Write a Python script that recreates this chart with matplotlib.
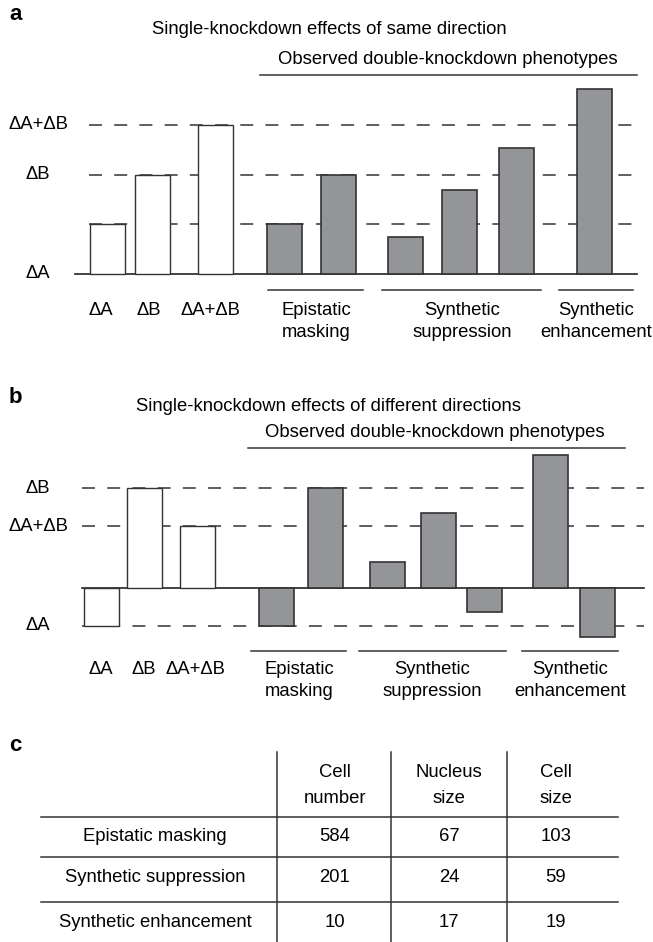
import matplotlib
matplotlib.use('Agg')
import matplotlib.pyplot as plt

plt.rcParams['font.family'] = ['Liberation Sans', 'DejaVu Sans']

# data
single_labels = ['ΔA', 'ΔB', 'ΔA+ΔB']
group_labels = ['Epistatic\nmasking', 'Synthetic\nsuppression', 'Synthetic\nenhancement']

# panel a: same direction (in units of ΔA)
a_single = [1.0, 2.0, 3.0]
a_double = [1.0, 2.0, 0.74, 1.7, 2.54, 3.72]
a_levels = [1.0, 2.0, 3.0]
a_level_labels = ['ΔA', 'ΔB', 'ΔA+ΔB']
a_level_pos = [0.0, 2.0, 3.0]

# panel b: different directions
b_single = [-1.0, 2.63, 1.63]
b_double = [-1.0, 2.63, 0.68, 1.97, -0.63, 3.5, -1.29]
b_levels = [-1.0, 1.63, 2.63]
b_level_labels = ['ΔA', 'ΔA+ΔB', 'ΔB']

# panel c table
row_names = ['Epistatic masking', 'Synthetic suppression', 'Synthetic enhancement']
col_names = ['Cell\nnumber', 'Nucleus\nsize', 'Cell\nsize']
cell_number = [584, 201, 10]
nucleus_size = [67, 24, 17]
cell_size = [103, 59, 19]

W, H = 653, 942
GREY = '#939598'
EDGE = '#333333'
FS = 13.3
DASH = (0, (8.5, 8))

fig = plt.figure(figsize=(W / 100, H / 100), dpi=100)


def panel_axes(top, bottom, base, unit):
    ax = fig.add_axes([0, 1 - bottom / H, 1, (bottom - top) / H])
    ax.set_xlim(0, W)
    ax.set_ylim((base - bottom) / unit, (base - top) / unit)
    ax.axis('off')
    return ax


def two_lines(ax, x, y1, y2, label):
    for y, line in zip([y1, y2], label.split('\n')):
        ax.text(x, y, line, fontsize=FS, ha='center', va='center')


def draw_panel(ax, py, letter, title, single, double, levels, lev_labels, lev_pos,
               xs_single, xs_double, dash_span, base_span, obs_span, obs_x,
               lab_x, grp_spans, grp_x, ys):
    ax.text(9, py(ys['letter']), letter, fontsize=16, fontweight='bold', va='center')
    ax.text(329, py(ys['title']), title, fontsize=FS, ha='center', va='center')
    ax.text(obs_x, py(ys['obs']), 'Observed double-knockdown phenotypes',
            fontsize=FS, ha='center', va='center')
    ax.plot(obs_span, [py(ys['obs_line'])] * 2, color=EDGE, lw=1.1)
    ax.hlines(levels, dash_span[0], dash_span[1], colors=EDGE, lw=1.1, linestyles=DASH)
    ax.bar(xs_single, single, width=35, facecolor='white', edgecolor=EDGE, lw=1, zorder=3)
    ax.bar(xs_double, double, width=35, facecolor=GREY, edgecolor=EDGE, lw=1.2, zorder=3)
    ax.plot(base_span, [0, 0], color='#222222', lw=1.2, zorder=2)
    for lab, y in zip(lev_labels, lev_pos):
        ax.text(38, y, lab, fontsize=FS, ha='center', va='center')
    for lab, x in zip(single_labels, lab_x):
        ax.text(x, py(ys['lab']), lab, fontsize=FS, ha='center', va='center')
    for (x0, x1), x, lab in zip(grp_spans, grp_x, group_labels):
        ax.plot([x0, x1], [py(ys['grp_line'])] * 2, color=EDGE, lw=1.1)
        two_lines(ax, x, py(ys['lab']), py(ys['lab2']), lab)


# panel a
base_a, unit_a = 274, 49.7
ax_a = panel_axes(0, 350, base_a, unit_a)
draw_panel(ax_a, lambda p: (base_a - p) / unit_a, 'a',
           'Single-knockdown effects of same direction',
           a_single, a_double, a_levels, a_level_labels, a_level_pos,
           [107, 152, 215], [284.5, 338.5, 405.5, 459.5, 516, 594.5],
           (89, 632), [75, 637], [260, 637], 448,
           [101, 149, 210], [(268, 363), (382, 541), (559, 633)], [316, 462, 596],
           dict(letter=14, title=29, obs=60, obs_line=75, lab=311, lab2=333, grp_line=290))

# panel b
base_b, unit_b = 588, 38
ax_b = panel_axes(350, 705, base_b, unit_b)
draw_panel(ax_b, lambda p: (base_b - p) / unit_b, 'b',
           'Single-knockdown effects of different directions',
           b_single, b_double, b_levels, b_level_labels, b_levels,
           [101.5, 144.5, 197], [276, 325, 387.5, 438.5, 484.5, 550, 597],
           (82, 644), [82, 644], [248, 625], 435,
           [101, 144, 195], [(251, 346), (359, 506), (522, 618)], [299, 432, 570],
           dict(letter=398, title=407, obs=433, obs_line=448, lab=670, lab2=692, grp_line=651))

# panel c: table
ax_c = fig.add_axes([0, 0, 1, (H - 705) / H])
ax_c.set_xlim(0, W)
ax_c.set_ylim(H, 705)
ax_c.axis('off')
ax_c.text(9, 746, 'c', fontsize=16, fontweight='bold', va='center')
for x in [277, 391, 507]:
    ax_c.plot([x, x], [752, H], color=EDGE, lw=1.1)
for y in [817, 857, 902]:
    ax_c.plot([41, 618], [y, y], color=EDGE, lw=1.1)
col_x = [335, 449, 556]
for x, name in zip(col_x, col_names):
    two_lines(ax_c, x, 773, 799, name)
row_y = [837, 878, 923]
for i, (y, name) in enumerate(zip(row_y, row_names)):
    ax_c.text(155, y, name, fontsize=FS, ha='center', va='center')
    for x, vals in zip(col_x, [cell_number, nucleus_size, cell_size]):
        ax_c.text(x, y, str(vals[i]), fontsize=FS, ha='center', va='center')

fig.savefig('out.png', dpi=100)
